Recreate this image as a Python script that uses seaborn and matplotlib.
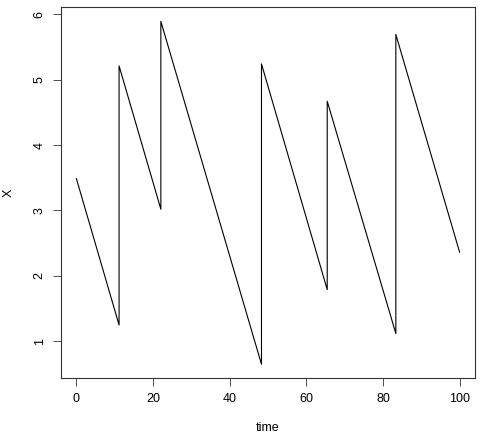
import matplotlib
matplotlib.use("Agg")
import matplotlib.pyplot as plt
import seaborn as sns
import pandas as pd

time = [0, 11.15, 11.15, 22.05, 22.05, 48.3, 48.3, 65.45, 65.45, 83.35, 83.35, 100]
X = [3.49, 1.25, 5.21, 3.02, 5.89, 0.65, 5.24, 1.79, 4.67, 1.12, 5.69, 2.36]
xticks = [0, 20, 40, 60, 80, 100]
yticks = [1, 2, 3, 4, 5, 6]

sns.set_style("ticks", {"text.color": "black", "axes.labelcolor": "black",
                        "xtick.color": "black", "ytick.color": "black",
                        "axes.edgecolor": "black"})
plt.rcParams['font.family'] = ['Liberation Sans', 'DejaVu Sans']

df = pd.DataFrame({"time": time, "X": X})
fig = plt.figure(figsize=(4.82, 4.4), dpi=100)
ax = fig.add_axes([61/482, 1-378/440, (475-61)/482, (378-7)/440])
sns.lineplot(data=df, x="time", y="X", estimator=None, sort=False,
             color="black", linewidth=0.8, ax=ax)
ax.set_xlim(-4, 104)
ax.set_ylim(0.44, 6.11)
ax.set_xticks(xticks)
ax.set_yticks(yticks)
ax.set_xticklabels([str(t) for t in xticks], fontsize=9)
ax.set_yticklabels([str(t) for t in yticks], fontsize=9, rotation=90, va="center")
ax.tick_params(length=6, width=0.6, color="#333333", labelcolor="black", pad=5)
for s in ax.spines.values():
    s.set_visible(True)
    s.set_linewidth(0.8)
    s.set_color("#333333")
ax.set_xlabel("time", fontsize=9, labelpad=12, color="black")
ax.set_ylabel("X", fontsize=9, labelpad=14, color="black")
fig.savefig("out.png", dpi=100)
